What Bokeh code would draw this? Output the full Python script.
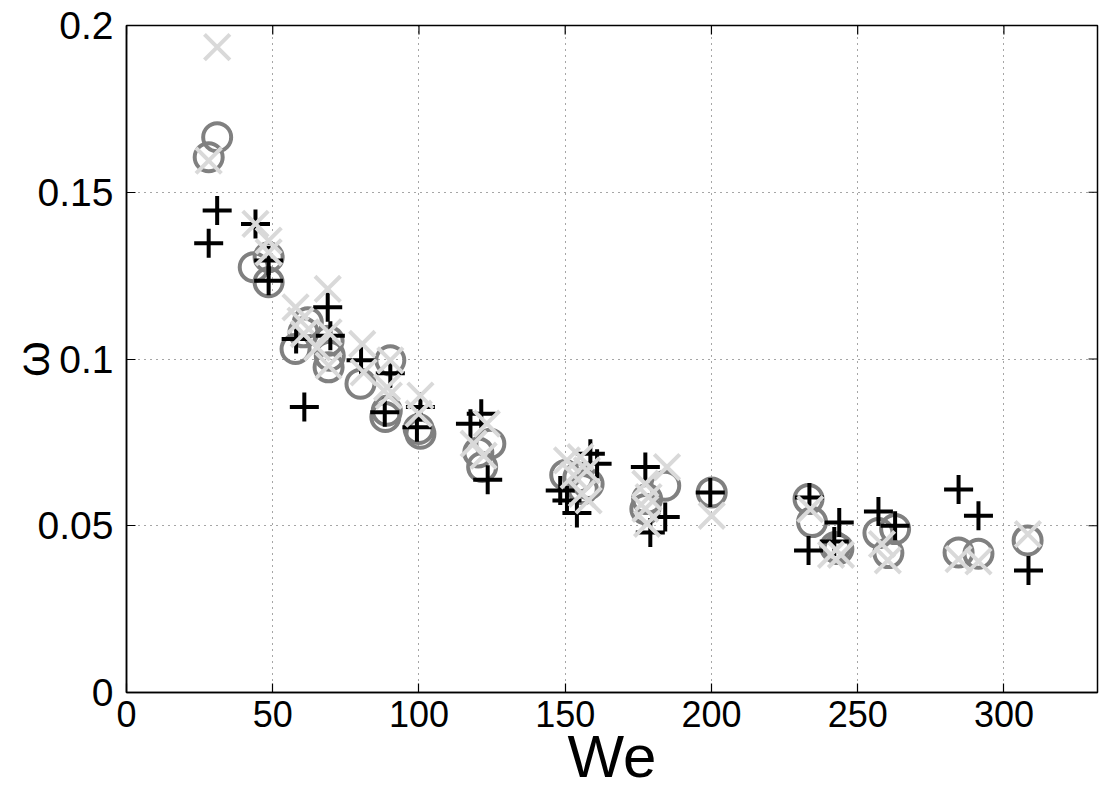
from bokeh.plotting import figure
from bokeh.models import Range1d, FixedTicker
from bokeh.embed import file_html
from bokeh.resources import INLINE

# Series 1: black plus markers
plus_we = [28.1, 31.0, 44.1, 48.6, 48.6, 58.0, 60.8, 68.8, 69.7, 80.2, 88.3, 90.2,
           100.5, 99.3, 117.6, 121.3, 123.5, 148.3, 150.6, 154.0, 158.6, 160.9,
           177.4, 179.1, 184.2, 199.6, 233.5, 233.2, 242.0, 243.7, 257.1, 262.8,
           284.5, 291.3, 308.4]
plus_w = [0.1347, 0.1445, 0.1405, 0.1295, 0.1235, 0.1060, 0.0856, 0.1155, 0.1070,
          0.0996, 0.0840, 0.0957, 0.0856, 0.0795, 0.0806, 0.0836, 0.0638, 0.0606,
          0.0576, 0.0538, 0.0716, 0.0686, 0.0676, 0.0480, 0.0526, 0.0600, 0.0585,
          0.0426, 0.0453, 0.0510, 0.0543, 0.0500, 0.0609, 0.0530, 0.0366]

# Series 2: gray circles
circ_we = [28.1, 31.0, 43.5, 48.6, 48.6, 57.8, 60.5, 62.0, 69.1, 69.5, 69.1, 80.0,
           90.2, 88.5, 89.0, 99.9, 100.5, 120.3, 121.6, 124.4, 150.0, 154.5, 158.0,
           156.0, 178.0, 177.4, 184.2, 200.1, 233.2, 234.4, 242.3, 243.4, 257.1,
           262.8, 260.5, 284.5, 291.3, 308.1]
circ_w = [0.1605, 0.1665, 0.1275, 0.1305, 0.1230, 0.1030, 0.1080, 0.1110, 0.1055,
          0.1010, 0.0975, 0.0926, 0.0996, 0.0826, 0.0845, 0.0790, 0.0776, 0.0720,
          0.0676, 0.0746, 0.0652, 0.0645, 0.0625, 0.0610, 0.0580, 0.0550, 0.0620,
          0.0600, 0.0580, 0.0511, 0.0436, 0.0430, 0.0478, 0.0490, 0.0418, 0.0420,
          0.0416, 0.0456]

# Series 3: light gray x markers
x_we = [28.1, 31.0, 44.1, 48.6, 48.6, 57.8, 59.5, 60.6, 65.2, 68.8, 69.1, 69.1,
        80.6, 81.1, 90.2, 89.1, 89.7, 100.5, 99.9, 118.7, 122.1, 123.2, 150.6,
        152.9, 155.2, 155.7, 157.4, 158.0, 177.4, 178.5, 177.4, 178.0, 184.8,
        200.1, 233.8, 240.9, 244.3, 258.3, 260.3, 284.5, 291.3, 308.2]
x_w = [0.1595, 0.1935, 0.1405, 0.1355, 0.1320, 0.1155, 0.1115, 0.1075, 0.1035,
       0.1210, 0.1080, 0.0980, 0.1045, 0.0960, 0.0996, 0.0915, 0.0890, 0.0890,
       0.0836, 0.0746, 0.0710, 0.0806, 0.0696, 0.0651, 0.0706, 0.0596, 0.0666,
       0.0576, 0.0626, 0.0586, 0.0551, 0.0506, 0.0676, 0.0530, 0.0550, 0.0413,
       0.0413, 0.0445, 0.0396, 0.0400, 0.0393, 0.0475]

x_ticks = [0, 50, 100, 150, 200, 250, 300]
y_ticks = [0, 0.05, 0.1, 0.15, 0.2]
y_tick_labels = ["0", "0.05", "0.1", "0.15", "0.2"]
x_label = "We"
y_label = "ω"

X_MAX, Y_MAX = 332, 0.2
FRAME_W, FRAME_H = 971, 667
TICK_PX = 9

p = figure(width=1099, height=796, output_backend="svg", toolbar_location=None,
           x_range=Range1d(0, X_MAX), y_range=Range1d(0, Y_MAX),
           min_border_left=126, min_border_top=25, min_border_right=2,
           min_border_bottom=104)
p.background_fill_color = "white"
p.border_fill_color = "white"
p.outline_line_color = "black"
p.outline_line_width = 1.5

p.xaxis.ticker = FixedTicker(ticks=x_ticks)
p.yaxis.ticker = FixedTicker(ticks=y_ticks)
p.yaxis.major_label_overrides = {t: l for t, l in zip(y_ticks, y_tick_labels)}

for ax in (p.xaxis[0], p.yaxis[0]):
    ax.major_tick_in = TICK_PX
    ax.major_tick_out = 0
    ax.minor_tick_line_color = None
    ax.axis_line_color = "black"
    ax.axis_line_width = 1.5
    ax.major_tick_line_width = 1.2
    ax.major_label_text_color = "black"
    ax.axis_label_text_color = "black"
    ax.axis_label_text_font_style = "normal"
    ax.axis_label_text_font = "Liberation Sans"

p.xaxis.major_label_text_font = "Liberation Sans"
p.xaxis.major_label_text_font_size = "36px"
p.xaxis.major_label_standoff = 8
p.xaxis.axis_label = x_label
p.xaxis.axis_label_text_font_size = "60px"
p.xaxis.axis_label_standoff = -7

p.yaxis.major_label_text_font = "Liberation Sans"
p.yaxis.major_label_text_font_size = "39px"
p.yaxis.major_label_standoff = 13
p.yaxis.axis_label = y_label
p.yaxis.axis_label_text_font_size = "46px"
p.yaxis.axis_label_standoff = -24

p.grid.grid_line_color = "black"
p.grid.grid_line_alpha = 0.7
p.grid.grid_line_dash = "1 5"
p.grid.grid_line_width = 1
p.xgrid.ticker = FixedTicker(ticks=x_ticks)
p.ygrid.ticker = FixedTicker(ticks=y_ticks)

# mirrored inward ticks on the top and right edges of the box
dy = Y_MAX / FRAME_H * TICK_PX
dx = X_MAX / FRAME_W * TICK_PX
p.segment(x0=x_ticks, y0=[Y_MAX] * len(x_ticks), x1=x_ticks,
          y1=[Y_MAX - dy] * len(x_ticks), line_color="black", line_width=1.2)
p.segment(x0=[X_MAX] * len(y_ticks), y0=y_ticks, x1=[X_MAX - dx] * len(y_ticks),
          y1=y_ticks, line_color="black", line_width=1.2)

p.scatter(circ_we, circ_w, marker="circle", size=28, fill_color=None,
          line_color="#808080", line_width=4)
p.scatter(plus_we, plus_w, marker="cross", size=29, line_color="black", line_width=4)
p.scatter(x_we, x_w, marker="x", size=36, line_color="#d9d9d9", line_width=4)

open("out.html", "w").write(file_html(p, INLINE))
